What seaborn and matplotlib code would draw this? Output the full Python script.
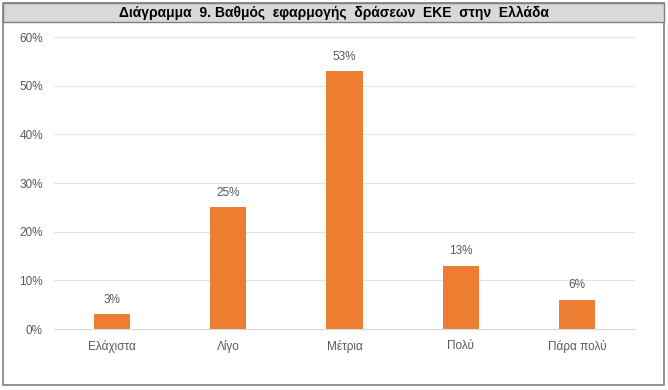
import matplotlib
matplotlib.use("Agg")
import matplotlib.pyplot as plt
import seaborn as sns
import pandas as pd
from matplotlib.patches import Rectangle
from matplotlib.ticker import PercentFormatter

categories = ["Ελάχιστα", "Λίγο", "Μέτρια", "Πολύ", "Πάρα πολύ"]
values = [3, 25, 53, 13, 6]
title = "Διάγραμμα  9. Βαθμός  εφαρμογής  δράσεων  ΕΚΕ  στην  Ελλάδα"

sns.set_theme(style="white")
plt.rcParams['font.family'] = ['Liberation Sans', 'DejaVu Sans']

df = pd.DataFrame({"cat": categories, "val": [v / 100 for v in values]})

W, H = 668, 390
fig = plt.figure(figsize=(W / 100, H / 100), dpi=100)
ax = fig.add_axes([54 / W, 1 - 329 / H, 581 / W, 292 / H])

sns.barplot(data=df, x="cat", y="val", color="#ED7D31", width=0.31, ax=ax,
            saturation=1, edgecolor="none")

ax.set_ylim(0, 0.6)
ax.set_yticks([0, 0.1, 0.2, 0.3, 0.4, 0.5, 0.6])
ax.yaxis.set_major_formatter(PercentFormatter(1.0, decimals=0))
ax.grid(axis="y", color="#E3E3E3", linewidth=0.8)
ax.set_axisbelow(True)
for s in ["top", "right", "left"]:
    ax.spines[s].set_visible(False)
ax.spines["bottom"].set_color("#D9D9D9")
ax.spines["bottom"].set_linewidth(0.8)
ax.tick_params(axis="both", length=0, colors="#595959", labelsize=8.5, pad=8)
ax.set_xlabel("")
ax.set_ylabel("")

for c in ax.containers:
    ax.bar_label(c, labels=[f"{v}%" for v in values], padding=6,
                 fontsize=8.5, color="#595959")

# outer border and title band
fig.patches.append(Rectangle((3 / W, 1 - 385 / H), 661 / W, 382 / H,
                             transform=fig.transFigure, facecolor="none",
                             edgecolor="#808080", linewidth=1.2, zorder=0))
fig.patches.append(Rectangle((3 / W, 1 - 22 / H), 661 / W, 19 / H,
                             transform=fig.transFigure, facecolor="#D9D9D9",
                             edgecolor="#808080", linewidth=1.0, zorder=0))
fig.text(0.5, 1 - 12.5 / H, title, ha="center", va="center",
         fontsize=10, fontweight="bold", color="black")

fig.savefig("out.png", dpi=100)
